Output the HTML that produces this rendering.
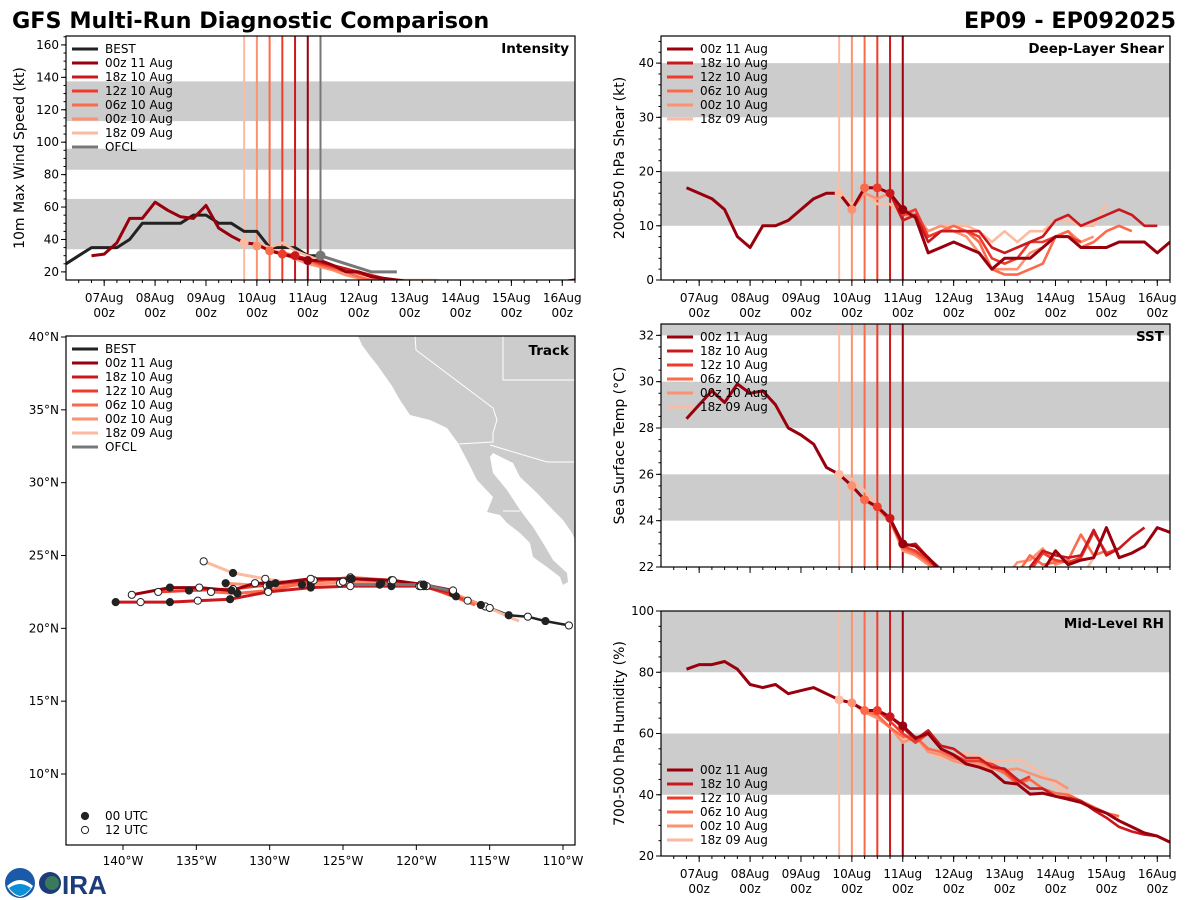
<!DOCTYPE html>
<html><head><meta charset="utf-8">
<style>
html,body{margin:0;padding:0;background:#fff;}
svg{display:block;font-family:"DejaVu Sans","Liberation Sans",sans-serif;}
</style></head>
<body>
<svg id="fig" width="1200" height="900" viewBox="0 0 1200 900" xmlns="http://www.w3.org/2000/svg">
<text x="12" y="28" font-size="22.3" font-weight="bold" fill="#000">GFS Multi-Run Diagnostic Comparison</text>
<text x="1176" y="28" font-size="22.3" font-weight="bold" text-anchor="end" fill="#000">EP09 - EP092025</text>
<g>
<circle cx="20" cy="883" r="15" fill="#1a5aa8"/>
<path d="M7,886 Q20,874 33,886 Q27,896 20,897 Q12,896 7,886Z" fill="#fff"/>
<path d="M9,888 Q20,880 31,888 Q26,895 20,896 Q14,895 9,888Z" fill="#0b8fd6"/>
<circle cx="50" cy="883" r="11" fill="#1d3c7a"/>
<circle cx="52" cy="883" r="7" fill="#3a7a5a"/>
<text x="62" y="894" font-size="26" font-weight="bold" fill="#1d3c7a" font-family="Liberation Sans, sans-serif">IRA</text>
</g>
</svg>
<script>
// ---- time-series data (hours from 07Aug 00z), 6-hourly values ----
const runNames = ["00z 11 Aug","18z 10 Aug","12z 10 Aug","06z 10 Aug","00z 10 Aug","18z 09 Aug"];
const runColors = ["#99000d","#cb181d","#ef3b2c","#fb6a4a","#fc9272","#fcbba1"];
const runInit = [96,90,84,78,72,66];
const runStartInt = [-6,90,84,78,72,66];
const runStartEnv = [-6,90,84,78,72,66];
const bestStart = -18;
const bestVals = [25,30,35,35,35,40,50,50,50,50,55,55,50,50,45,45,35,35,35,30,30];
const ofclTimes = [102,114,126,138];
const ofclVals = [30,25,20,20];
const int00z11 = [30,31,38,53,53,63,58,54,53,61,47,42,38,37,33,31,29,27,27,24,20,20,17,16,15,14,14,14,14,14,14,14,14,14,14,14,14,14,15,16,16,16.5,17.5];
const int18z10 = [30,28,26,24,22,20,18,16,15,14,14,14];
const int12z10 = [31,30,28,25,23,22,19,17,16,15,14];
const int06z10 = [33,32,30,27,24,22,20,17,15,15,14];
const int00z10 = [36,34,31,28,25,23,21,18,16,15,15,15,14];
const int18z09 = [38,38,35,38,33,30,27,24,22,19,17,16,15,15,15,15,14];
const shr00z11 = [17,16,15,13,8,6,10,10,11,13,15,16,16,13,17,17,16,13,11.5,5,6,7,6,5,2,4,4,4,6,8,8,6,6,6,7,7,7,5,7];
const shr18z10 = [16,11,12,7,9,9,9,9,6,5,6,7,8,11,12,10,11,12,13,12,10,10];
const shr12z10 = [17,16,12,13,8,9,9,9,8,4,3,4,7,7,8,8,7];
const shr06z10 = [17,17,16,12,12,8,9,10,9,7,2,1,1,2,3,8,9,6,7,9,10,9];
const shr00z10 = [13,16,15,16,13,12,9,10,9,8,5,2,2,2,5,6,8,9,7,8];
const shr18z09 = [16,14,16,14,14,12,12,9,10,10,10,9,7,9,7,9,9,11,11,10,10,14];
const sst00z11 = [28.4,29.0,29.6,29.1,29.9,29.5,29.6,29.0,28.0,27.7,27.3,26.3,26.0,25.5,24.9,24.6,24.1,23.0,22.9,22.4,21.8,21.5,21.5,21.5,21.5,21.5,21.5,21.5,21.8,22.7,22.1,22.3,22.4,23.7,22.4,22.6,22.9,23.7,23.5];
const sst18z10 = [24.1,22.9,23.0,22.4,21.9,21.5,21.5,21.5,21.5,21.5,21.5,22.0,22.7,22.5,22.4,22.5,23.6,22.5,22.8,23.3,23.7];
const sst12z10 = [24.6,24.0,22.9,22.7,22.3,21.8,21.5,21.5,21.5,21.5,21.5,21.5,21.8,22.6,22.3,22.2,22.4,23.5,22.6,22.8];
const sst06z10 = [24.9,24.6,24.1,22.8,22.6,22.2,21.7,21.5,21.5,21.5,21.5,21.5,21.7,22.5,22.1,22.2,22.3,23.4,22.5,22.7];
const sst00z10 = [25.5,24.9,24.5,24.0,22.7,22.5,22.1,21.6,21.5,21.5,21.5,21.5,21.5,22.2,22.3,22.8,22.1,22.3];
const sst18z09 = [26.0,25.8,25.3,24.7,24.0,22.8,22.5,22.1,21.6,21.5,21.5,21.5,21.5,21.5,21.5,21.5,21.5,21.5,21.5,21.5,22.4];
const rh00z11 = [81,82.5,82.5,83.5,81,76,75,76,73,74,75,73,71,70,67.5,67.5,65.5,62.5,58.5,60,55,53,50,49,47.5,44,43.5,40.2,40.5,39.5,38.5,37.5,35.5,34,31.5,29.5,27.5,26.5,24.5];
const rh18z10 = [65.5,62,58,61,56,55,52,52,49,48.5,45,42,42,39.5,39,38,35,32.5,29.5,28,27,26.5];
const rh12z10 = [67.5,64,60,57,60,55,53,51,51,50,48,44,46];
const rh06z10 = [67.5,66,62,59,59,55,54,52,51,51,49,47,43.5,45,42,40.5,40,38,36,34,33];
const rh00z10 = [70,67,65,62,57,59,54,53,51,50,50,48.5,48,48.5,47,45.5,44.5,42];
const rh18z09 = [71,70,68,66,62,58,59,54,52,53,53.5,52.5,51,51,51.5,49.5,47,43,40.5,37.5];
const dayLabels = ["07Aug","08Aug","09Aug","10Aug","11Aug","12Aug","13Aug","14Aug","15Aug","16Aug"];
// ---- track data ----
const bestLon = [-109.6,-111.2,-112.4,-113.7,-115.0,-115.6,-116.5,-117.3,-117.5];
const bestLat = [20.2,20.5,20.8,20.9,21.4,21.6,21.9,22.2,22.6];
const trkLon = [
 [-117.5,-119.5,-121.6,-124.5,-127.2,-129.6,-131.0,-132.6,-134.8,-136.8,-139.4],
 [-117.3,-119.7,-121.7,-124.5,-127.2,-130.1,-132.7,-134.9,-136.8,-138.8,-140.5],
 [-116.8,-119.5,-121.7,-124.4,-127.0,-130.0,-132.5,-135.5,-137.6],
 [-116.0,-119.3,-121.7,-124.5,-127.2,-130.1,-132.2,-134.0],
 [-114.8,-117.5,-119.7,-122.4,-125.0,-127.2,-130.2,-133.0],
 [-113.0,-115.3,-117.5,-119.8,-122.5,-125.2,-127.8,-130.3,-132.5,-134.5]];
const trkLat = [
 [22.6,23.0,23.3,23.4,23.4,23.1,23.1,22.6,22.8,22.8,22.3],
 [22.4,22.9,22.9,22.9,22.8,22.5,22.0,21.9,21.8,21.8,21.8],
 [22.0,22.9,23.2,23.4,23.3,23.0,22.7,22.6,22.5],
 [21.6,22.9,23.3,23.5,23.2,22.6,22.4,22.5],
 [21.3,22.4,23.0,23.1,23.2,23.0,22.9,23.1],
 [20.5,21.5,22.4,22.9,23.0,23.1,23.0,23.4,23.8,24.6]];
const ofclLon = [-117.8,-119.5,-121.5,-124.5];
const ofclLat = [22.6,23.0,23.0,23.0];

const NS="http://www.w3.org/2000/svg";
const fig=document.getElementById('fig');
function mk(tag,attrs,parent){const e=document.createElementNS(NS,tag);for(const k in attrs)e.setAttribute(k,attrs[k]);(parent||fig).appendChild(e);return e;}
function txt(s,attrs,parent){const e=mk('text',attrs,parent);e.textContent=s;return e;}

function timePanel(cfg){
  const g=mk('g',{});
  
  
  const L=cfg.L,R=cfg.R,T=cfg.T,B=cfg.B;
  const xS=t=>L+(t+18)/240*(R-L);
  const yS=v=>B-(v-cfg.ymin)/(cfg.ymax-cfg.ymin)*(B-T);
  const cid='clip-'+cfg.name;
  const cp=mk('clipPath',{id:cid},g);mk('rect',{x:L,y:T,width:R-L,height:B-T},cp);
  const pg=mk('g',{'clip-path':'url(#'+cid+')'},g);
  cfg.bands.forEach(b=>{const r=mk('rect',{x:L,y:yS(b[1]),width:R-L,height:yS(b[0])-yS(b[1]),fill:'#cccccc'},pg);
    });
  for(let i=runInit.length-1;i>=0;i--){const l=mk('line',{x1:xS(runInit[i]),x2:xS(runInit[i]),y1:T,y2:B,stroke:runColors[i],'stroke-width':2},pg);
    }
  if(cfg.ofcl){const l=mk('line',{x1:xS(102),x2:xS(102),y1:T,y2:B,stroke:'#777','stroke-width':2},pg);
    }
  function series(start,vals,color,w,nm){
    const pts=vals.map((v,i)=>xS(start+6*i).toFixed(1)+','+yS(v).toFixed(1)).join(' ');
    const p=mk('polyline',{points:pts,fill:'none',stroke:color,'stroke-width':w,'stroke-linejoin':'round'},pg);
    }
  if(cfg.best){series(bestStart,bestVals,'#222',3,'best-line');}
  for(let i=cfg.runs.length-1;i>=0;i--){series(cfg.starts[i],cfg.runs[i],runColors[i],i==0?3:2.6,'run-line');}
  if(cfg.ofcl){const pts=ofclTimes.map((t,i)=>xS(t)+','+yS(ofclVals[i])).join(' ');
    const p=mk('polyline',{points:pts,fill:'none',stroke:'#777','stroke-width':3},pg);
    
    const c=mk('circle',{cx:xS(102),cy:yS(ofclVals[0]),r:5,fill:'#777'},pg);
    }
  for(let i=cfg.runs.length-1;i>=0;i--){const k=(runInit[i]-cfg.starts[i])/6;const v=cfg.runs[i][k];
    if(v!==undefined){const c=mk('circle',{cx:xS(runInit[i]),cy:yS(v),r:4.5,fill:runColors[i]},pg);
      }}
  mk('rect',{x:L,y:T,width:R-L,height:B-T,fill:'none',stroke:'#000','stroke-width':1.2},g);
  for(let v=cfg.ymin0;v<=cfg.ymax;v+=cfg.minor){mk('line',{x1:L-2.5,x2:L,y1:yS(v),y2:yS(v),stroke:'#000','stroke-width':1},g);}
  for(let v=cfg.ymin0;v<=cfg.ymax;v+=cfg.step){mk('line',{x1:L-5,x2:L,y1:yS(v),y2:yS(v),stroke:'#000','stroke-width':1},g);
    const t=txt(String(v),{x:L-7,y:yS(v)+4,'font-size':12,'text-anchor':'end'},g);
    }
  for(let t=-12;t<=222;t+=6){mk('line',{x1:xS(t),x2:xS(t),y1:B,y2:B+3,stroke:'#000','stroke-width':1},g);}
  dayLabels.forEach((d,i)=>{const x=xS(24*i);mk('line',{x1:x,x2:x,y1:B,y2:B+6,stroke:'#000','stroke-width':1},g);
    if(cfg.xlabels){const a=txt(d,{x:x,y:B+22,'font-size':12,'text-anchor':'middle'},g);
      
      const b=txt('00z',{x:x,y:B+37,'font-size':12,'text-anchor':'middle'},g);
      }});
  const yt=txt(cfg.ylabel,{x:0,y:0,'font-size':14,'text-anchor':'middle',transform:'translate('+cfg.ylx+','+((T+B)/2)+') rotate(-90)'},g);
  
  const pt=txt(cfg.title,{x:R-6,y:T+17,'font-size':13.5,'font-weight':'bold','text-anchor':'end'},g);
  
  const lg=mk('g',{},g);
  
  const entries=[];
  if(cfg.best)entries.push(['BEST','#222']);
  runNames.forEach((n,i)=>entries.push([n,runColors[i]]));
  if(cfg.ofcl)entries.push(['OFCL','#777']);
  entries.forEach((e,i)=>{const y=cfg.legY+i*14;
    mk('line',{x1:L+6,x2:L+32,y1:y,y2:y,stroke:e[1],'stroke-width':3},lg);
    const t=txt(e[0],{x:L+39,y:y+4,'font-size':12},lg);
    });
}

timePanel({name:'intensity',L:66,R:575,T:36,B:280,ymin:15,ymax:165.5,ymin0:20,step:20,minor:5,
  bands:[[34,65],[83,96],[113,137.5]],best:true,ofcl:true,xlabels:true,
  runs:[int00z11,int18z10,int12z10,int06z10,int00z10,int18z09],starts:runStartInt,
  ylabel:'10m Max Wind Speed (kt)',ylx:24,title:'Intensity',legY:49});
timePanel({name:'shear',L:661,R:1170,T:36,B:280,ymin:0,ymax:45,ymin0:0,step:10,minor:2,
  bands:[[10,20],[30,40]],best:false,ofcl:false,xlabels:true,
  runs:[shr00z11,shr18z10,shr12z10,shr06z10,shr00z10,shr18z09],starts:runStartEnv,
  ylabel:'200-850 hPa Shear (kt)',ylx:624,title:'Deep-Layer Shear',legY:49});
timePanel({name:'sst',L:661,R:1170,T:324,B:567,ymin:22,ymax:32.49,ymin0:22,step:2,minor:0.5,
  bands:[[24,26],[28,30],[32,34]],best:false,ofcl:false,xlabels:false,
  runs:[sst00z11,sst18z10,sst12z10,sst06z10,sst00z10,sst18z09],starts:runStartEnv,
  ylabel:'Sea Surface Temp (°C)',ylx:624,title:'SST',legY:337});
timePanel({name:'rh',L:661,R:1170,T:611,B:856,ymin:20,ymax:100,ymin0:20,step:20,minor:5,
  bands:[[40,60],[80,100]],best:false,ofcl:false,xlabels:true,
  runs:[rh00z11,rh18z10,rh12z10,rh06z10,rh00z10,rh18z09],starts:runStartEnv,
  ylabel:'700-500 hPa Humidity (%)',ylx:624,title:'Mid-Level RH',legY:770});

// ---- track panel ----
(function(){
  const L=66,R=575,T=336,B=845;
  const xL=lon=>123+(lon+140)*14.667;
  const yL=lat=>337+(40-lat)*14.567;
  const g=mk('g',{});
  
  const cp=mk('clipPath',{id:'clip-track'},g);mk('rect',{x:L,y:T,width:R-L,height:B-T},cp);
  const pg=mk('g',{'clip-path':'url(#clip-track)'},g);
  const land=mk('polygon',{points:'358,336 575,336 575,540 572,533 563,520 553,510 537,493 520,477 513,463 503,458 493,453 490,457 493,473 507,490 520,510 533,527 543,543 553,560 567,573 568,582 563,585 560,577 547,567 533,557 530,543 520,533 507,523 500,515 487,512 493,497 477,480 467,460 458,443 447,428 430,420 410,415 400,400 392,386 385,376 378,366 370,356 362,345',fill:'#cccccc'},pg);
  
  const bd=mk('polyline',{points:'415,336 416,350 493,408 497,420 493,433 493,442 458,444',fill:'none',stroke:'#fff','stroke-width':1},pg);
  
  mk('polyline',{points:'503,336 503,380 575,380',fill:'none',stroke:'#fff','stroke-width':1},pg);
  mk('polyline',{points:'490,445 547,462 575,462',fill:'none',stroke:'#fff','stroke-width':1},pg);
  mk('polyline',{points:'503,511 520,511',fill:'none',stroke:'#fff','stroke-width':1},pg);
  function path(lons,lats,color,w,nm){const p=mk('polyline',{points:lons.map((l,i)=>xL(l).toFixed(1)+','+yL(lats[i]).toFixed(1)).join(' '),fill:'none',stroke:color,'stroke-width':w,'stroke-linejoin':'round'},pg);
    }
  path(bestLon,bestLat,'#222',2.5,'best-track');
  for(let i=trkLon.length-1;i>=0;i--)path(trkLon[i],trkLat[i],runColors[i],3,'run-track');
  path(ofclLon,ofclLat,'#777',3,'ofcl-track');
  function dots(lons,lats,off){lons.forEach((l,i)=>{const filled=(i+off)%2==0;
    const c=mk('circle',{cx:xL(l),cy:yL(lats[i]),r:3.6,fill:filled?'#222':'#fff',stroke:'#222','stroke-width':1},pg);
    });}
  for(let i=trkLon.length-1;i>=0;i--)dots(trkLon[i].slice(1),trkLat[i].slice(1),i%2);
  dots(bestLon,bestLat,1);
  mk('rect',{x:L,y:T,width:R-L,height:B-T,fill:'none',stroke:'#000','stroke-width':1.2},g);
  for(let lon=-140;lon<=-110;lon+=5){const x=xL(lon);mk('line',{x1:x,x2:x,y1:B,y2:B+5,stroke:'#000'},g);
    const t=txt((-lon)+'°W',{x:x,y:B+20,'font-size':12,'text-anchor':'middle'},g);
    }
  for(let lat=10;lat<=40;lat+=5){const y=yL(lat);mk('line',{x1:L-5,x2:L,y1:y,y2:y,stroke:'#000'},g);
    const t=txt(lat+'°N',{x:L-7,y:y+4,'font-size':12,'text-anchor':'end'},g);
    }
  const pt=txt('Track',{x:R-6,y:T+19,'font-size':13.5,'font-weight':'bold','text-anchor':'end'},g);
  
  const lg=mk('g',{},g);
  
  const ents=[['BEST','#222']].concat(runNames.map((n,i)=>[n,runColors[i]])).concat([['OFCL','#777']]);
  ents.forEach((e,i)=>{const y=349+i*14;mk('line',{x1:L+6,x2:L+32,y1:y,y2:y,stroke:e[1],'stroke-width':3},lg);
    const t=txt(e[0],{x:L+39,y:y+4,'font-size':12},lg);
    });
  mk('circle',{cx:85,cy:816,r:3.6,fill:'#222',stroke:'#222'},lg);
  const a=txt('00 UTC',{x:105,y:820,'font-size':12},lg);
  mk('circle',{cx:85,cy:830,r:3.6,fill:'#fff',stroke:'#222'},lg);
  const b=txt('12 UTC',{x:105,y:834,'font-size':12},lg);
})();
</script>
</body></html>
